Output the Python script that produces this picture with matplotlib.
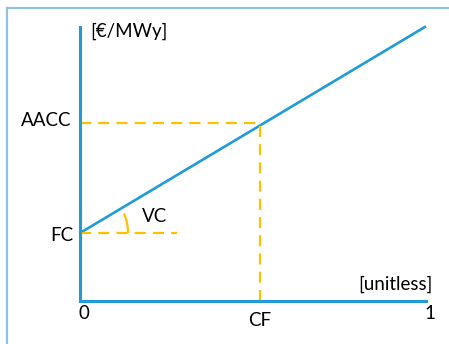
import numpy as np
import matplotlib
matplotlib.use("Agg")
import matplotlib.pyplot as plt
from matplotlib.lines import Line2D

# values (arbitrary units)
fc = 1.0          # fixed cost (intercept)
vc = 3.04         # variable cost (slope)
cf = 0.52         # capacity factor
aacc = 2.62       # average annual capacity cost level as drawn
x_line = [0.0, 1.0]

blue = "#1f9bd7"
gold = "#ffc000"
plt.rcParams['font.family'] = ['Lato', 'DejaVu Sans']
fs = 13.5

fig = plt.figure(figsize=(4.49, 3.44), dpi=100)
# left / top frame of the picture
fig.add_artist(Line2D([7/449, 7/449], [0, 1 - 8/344], color="#8fc3e6", lw=1.6))
fig.add_artist(Line2D([7/449, 1], [1 - 8/344, 1 - 8/344], color="#8fc3e6", lw=1.6))

ax = fig.add_axes([80/449, 43/344, 346/449, 274/344])
ax.set_xlim(0, 1)
ax.set_ylim(0, 4.03)
ax.patch.set_alpha(0)
for s in ["top", "right"]:
    ax.spines[s].set_visible(False)
for s in ["left", "bottom"]:
    ax.spines[s].set_color(blue)
    ax.spines[s].set_linewidth(2.2)
ax.set_xticks([])
ax.set_yticks([])

y_line = [fc + vc * x for x in x_line]
ax.plot(x_line, y_line, color=blue, lw=1.9, clip_on=False, solid_capstyle="butt")

dash = dict(color=gold, lw=1.6, dashes=(5, 3.2))
ax.plot([0, cf + 0.005], [aacc, aacc], **dash)
ax.plot([cf, cf], [0, aacc], **dash)
ax.plot([0, 0.28], [fc, fc], **dash)

# angle arc for the slope (VC), radius ~48 px on screen
px_x = 346.0
px_y = 274 / 4.03
ang = np.arctan2(vc * px_y, px_x)
t = np.linspace(0, ang * 0.95, 30)
ax.plot(48 * np.cos(t) / px_x, fc + 48 * np.sin(t) / px_y, color=gold, lw=1.6,
        dashes=(9, 2.5))

ax.text(-0.025, aacc + 0.04, "AACC", ha="right", va="center", fontsize=fs)
ax.text(-0.018, fc - 0.04, "FC", ha="right", va="center", fontsize=fs)
ax.text(0.18, fc + 0.25, "VC", ha="left", va="center", fontsize=fs)
ax.text(0.01, -0.19, "0", ha="center", va="center", fontsize=fs)
ax.text(cf, -0.28, "CF", ha="center", va="center", fontsize=fs)
ax.text(1.01, -0.19, "1", ha="center", va="center", fontsize=fs)
ax.text(0.03, 3.97, "[€/MWy]", ha="left", va="center", fontsize=fs)
ax.text(1.02, 0.24, "[unitless]", ha="right", va="center", fontsize=fs)

fig.savefig("out.png", dpi=100)
